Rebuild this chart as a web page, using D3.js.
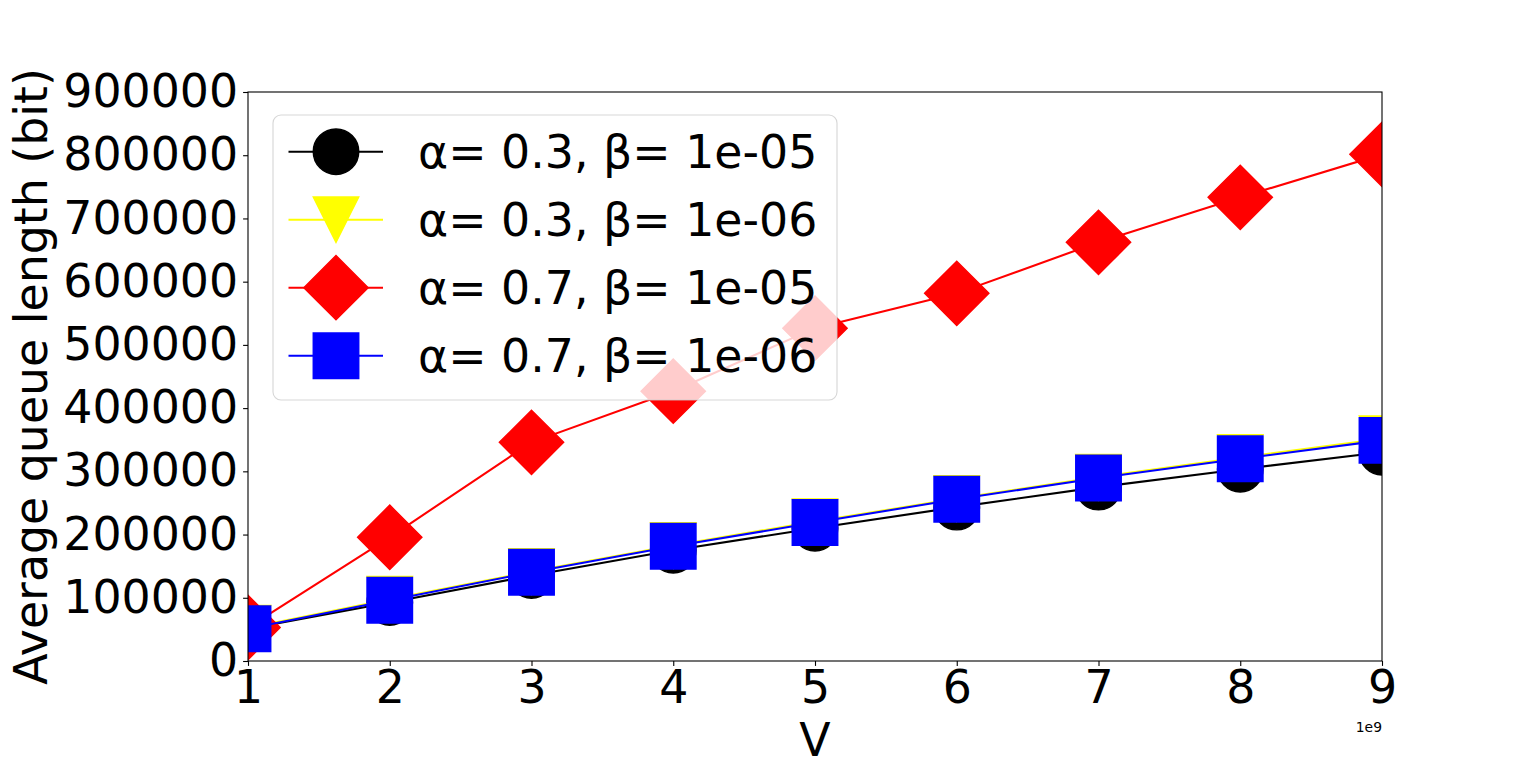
<!DOCTYPE html>
<html>
<head>
<meta charset="utf-8">
<script src="https://cdn.jsdelivr.net/npm/d3@7"></script>
<style>
  body { margin: 0; background: #fff; }
  svg { display: block; font-family: "DejaVu Sans", sans-serif; }
</style>
</head>
<body>
<svg id="chart" width="1536" height="767"></svg>
<script>
// V values (x axis, in units of 1e9)
var vValues = [1, 2, 3, 4, 5, 6, 7, 8, 9];

// Average queue length (bit) per series
var blackVals  = [51000, 92500, 135200, 175200, 210000, 243400, 275000, 303400, 330300];
var yellowVals = [52000, 97600, 141500, 182800, 220500, 257000, 290800, 321800, 351500];
var redVals    = [53000, 195700, 345900, 426800, 526500, 581500, 662200, 733400, 801400];
var blueVals   = [51000, 96000, 140300, 181400, 219000, 255900, 289400, 319800, 349000];

var seriesLabels = ['α= 0.3, β= 1e-05', 'α= 0.3, β= 1e-06', 'α= 0.7, β= 1e-05', 'α= 0.7, β= 1e-06'];
var seriesColors = ['#000000', '#ffff00', '#ff0000', '#0000ff'];
var seriesShapes = ['circle', 'triangleDown', 'diamond', 'square'];

var yTicks = [0, 100000, 200000, 300000, 400000, 500000, 600000, 700000, 800000, 900000];
var xTicks = [1, 2, 3, 4, 5, 6, 7, 8, 9];

// layout
var plotLeft = 248, plotRight = 1382, plotTop = 92, plotBottom = 661;
var fontSize = 45.8;
var markerSize = 45.5;

var svg = d3.select('#chart');

var xScale = d3.scaleLinear().domain([1, 9]).range([plotLeft, plotRight]);
var yScale = d3.scaleLinear().domain([0, 900000]).range([plotBottom, plotTop]);

function markerPath(shape, s) {
  var h = s / 2;
  if (shape === 'circle') {
    return d3.symbol(d3.symbolCircle, Math.PI * h * h)();
  }
  if (shape === 'square') {
    return 'M' + (-h) + ',' + (-h) + 'H' + h + 'V' + h + 'H' + (-h) + 'Z';
  }
  if (shape === 'diamond') {
    var d = s / Math.SQRT2;
    return 'M0,' + (-d) + 'L' + d + ',0L0,' + d + 'L' + (-d) + ',0Z';
  }
  // triangle pointing down
  return 'M' + (-h) + ',' + (-h) + 'L' + h + ',' + (-h) + 'L0,' + h + 'Z';
}

// clip for the data area
svg.append('defs').append('clipPath').attr('id', 'plotClip')
  .append('rect')
    .attr('x', plotLeft).attr('y', plotTop)
    .attr('width', plotRight - plotLeft).attr('height', plotBottom - plotTop);

var series = [blackVals, yellowVals, redVals, blueVals].map(function (vals, i) {
  return {
    label: seriesLabels[i],
    color: seriesColors[i],
    shape: seriesShapes[i],
    points: vValues.map(function (v, j) { return { x: v, y: vals[j] }; })
  };
});

var line = d3.line()
  .x(function (d) { return xScale(d.x); })
  .y(function (d) { return yScale(d.y); });

var plot = svg.append('g').attr('clip-path', 'url(#plotClip)');

// each series draws its line and then its markers, in order
series.forEach(function (s) {
  var g = plot.append('g');
  g.append('path')
    .attr('d', line(s.points))
    .attr('fill', 'none')
    .attr('stroke', s.color)
    .attr('stroke-width', 2.08);
  g.selectAll('path.marker')
      .data(s.points)
      .enter()
    .append('path')
      .attr('class', 'marker')
      .attr('transform', function (d) { return 'translate(' + xScale(d.x) + ',' + yScale(d.y) + ')'; })
      .attr('d', markerPath(s.shape, markerSize))
      .attr('fill', s.color)
      .attr('stroke', s.color)
      .attr('stroke-width', 1.4);
});

// axes
var xAxis = d3.axisBottom(xScale)
  .tickValues(xTicks)
  .tickFormat(d3.format('d'))
  .tickSize(4.9).tickSizeOuter(0).tickPadding(5);

var yAxis = d3.axisLeft(yScale)
  .tickValues(yTicks)
  .tickFormat(d3.format('d'))
  .tickSize(4.9).tickSizeOuter(0).tickPadding(5);

var gx = svg.append('g')
  .attr('transform', 'translate(0,' + plotBottom + ')')
  .call(xAxis);
var gy = svg.append('g')
  .attr('transform', 'translate(' + plotLeft + ',0)')
  .call(yAxis);

[gx, gy].forEach(function (g) {
  g.select('.domain').remove();
  g.selectAll('.tick line').attr('stroke', '#000').attr('stroke-width', 1.1);
  g.selectAll('.tick text')
    .attr('fill', '#000')
    .style('font-family', '"DejaVu Sans", sans-serif')
    .style('font-size', fontSize + 'px');
});

// frame
svg.append('rect')
  .attr('x', plotLeft).attr('y', plotTop)
  .attr('width', plotRight - plotLeft).attr('height', plotBottom - plotTop)
  .attr('fill', 'none')
  .attr('stroke', '#000')
  .attr('stroke-width', 1.1);

// axis labels
svg.append('text')
  .attr('x', (plotLeft + plotRight) / 2)
  .attr('y', 756)
  .attr('text-anchor', 'middle')
  .style('font-size', fontSize + 'px')
  .text('V');

svg.append('text')
  .attr('transform', 'translate(47,' + ((plotTop + plotBottom) / 2) + ') rotate(-90)')
  .attr('text-anchor', 'middle')
  .style('font-size', fontSize + 'px')
  .text('Average queue length (bit)');

svg.append('text')
  .attr('x', plotRight)
  .attr('y', 731.5)
  .attr('text-anchor', 'end')
  .style('font-size', '13.9px')
  .text('1e9');

// legend
var legend = svg.append('g');
legend.append('rect')
  .attr('x', 273).attr('y', 115)
  .attr('width', 564).attr('height', 285)
  .attr('rx', 8).attr('ry', 8)
  .attr('fill', '#fff').attr('fill-opacity', 0.8)
  .attr('stroke', '#cccccc').attr('stroke-opacity', 0.8)
  .attr('stroke-width', 1.1);

var entryY0 = 151.7, entryStep = 68;
series.forEach(function (s, i) {
  var y = entryY0 + i * entryStep;
  var g = legend.append('g');
  g.append('line')
    .attr('x1', 288.5).attr('x2', 383)
    .attr('y1', y).attr('y2', y)
    .attr('stroke', s.color)
    .attr('stroke-width', 2.08);
  g.append('path')
    .attr('transform', 'translate(336,' + y + ')')
    .attr('d', markerPath(s.shape, markerSize))
    .attr('fill', s.color)
    .attr('stroke', s.color)
    .attr('stroke-width', 1.4);
  g.append('text')
    .attr('x', 418)
    .attr('y', y)
    .attr('dy', '0.36em')
    .style('font-size', fontSize + 'px')
    .text(s.label);
});
</script>
</body>
</html>
